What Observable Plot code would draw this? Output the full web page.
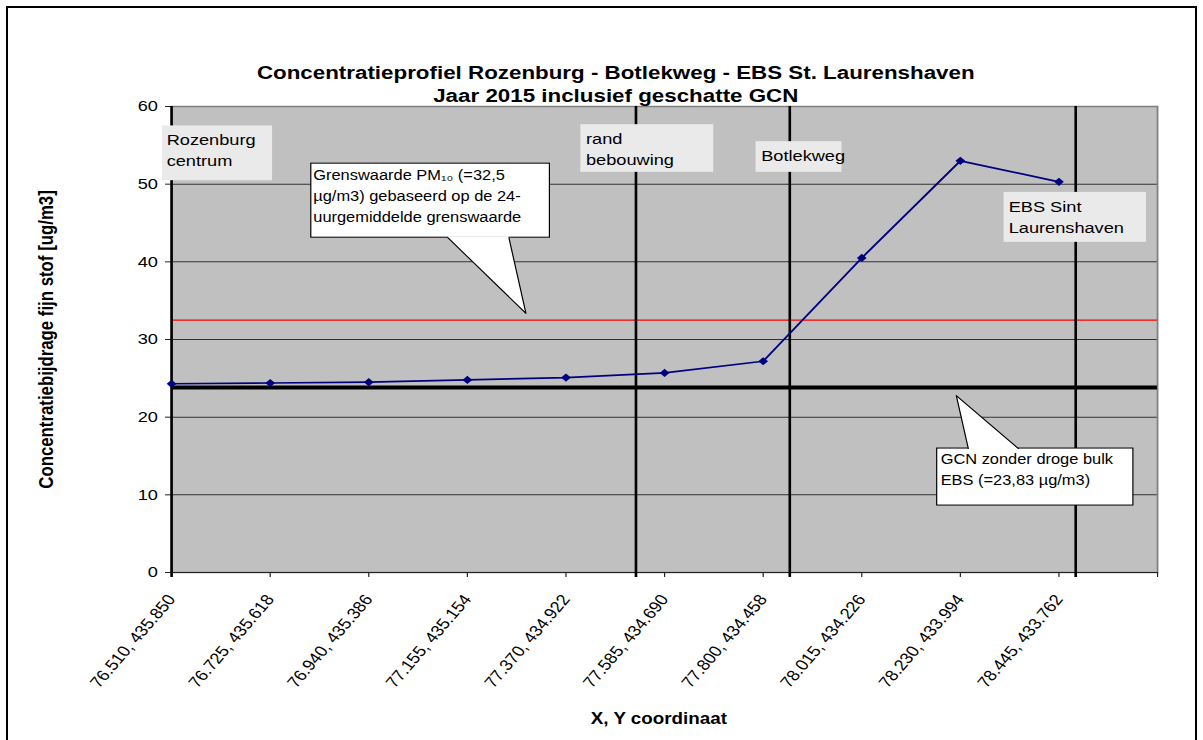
<!DOCTYPE html>
<html>
<head>
<meta charset="utf-8">
<script src="https://cdn.jsdelivr.net/npm/d3@7"></script>
<script src="https://cdn.jsdelivr.net/npm/@observablehq/plot@0.6"></script>
<style>
  html, body { margin: 0; padding: 0; background: #fff; overflow: hidden; }
  body { width: 1203px; height: 740px; position: relative; font-family: "Liberation Sans", Arial, sans-serif; }
  #wrap { position: absolute; left: 0; top: 0; width: 1011px; height: 740px; transform: scaleX(1.18991); transform-origin: 0 0; }
  #title { position: absolute; left: 0; top: 62px; width: 1035px; text-align: center; font-weight: bold; font-size: 18.8px; line-height: 22.5px; color: #000; }
  #border { position: absolute; left: 6px; top: 6px; width: 1191px; height: 800px; border: 2px solid #000; box-sizing: border-box; pointer-events: none; }
  svg { display: block; }
</style>
</head>
<body>
<div id="wrap">
  <div id="chart"></div>
  <div id="title"></div>
</div>
<div id="border"></div>
<script>
// ---- data ----
const titleLines = ["Concentratieprofiel Rozenburg - Botlekweg - EBS St. Laurenshaven", "Jaar 2015 inclusief geschatte GCN"];
const yAxisTitle = "Concentratiebijdrage fijn stof [ug/m3]";
const xAxisTitle = "X, Y coordinaat";
const xLabels = ["76.510, 435.850", "76.725, 435.618", "76.940, 435.386", "77.155, 435.154", "77.370, 434.922",
                 "77.585, 434.690", "77.800, 434.458", "78.015, 434.226", "78.230, 433.994", "78.445, 433.762"];
const values = [24.3, 24.4, 24.5, 24.8, 25.1, 25.7, 27.2, 40.5, 53.0, 50.3];
const yTicks = [0, 10, 20, 30, 40, 50, 60];
const limitPM10 = 32.5;
const gcnValue = 23.83;

// location markers (x in category-index units)
const locNames = ["Rozenburg\ncentrum", "rand\nbebouwing", "Botlekweg", "EBS Sint\nLaurenshaven"];
const locLineX = [0, 4.71, 6.27, 9.17];
const locTextX = [-0.05, 4.203, 5.98, 8.49];
const locTextY = [57.04, 57.13, 54.98, 48.42];
const locBoxX1 = [-0.091, 4.152, 5.929, 8.444];
const locBoxX2 = [1.025, 5.5, 6.80, 9.888];
const locBoxTop = [57.5, 57.66, 55.47, 48.94];
const locBoxBottom = [50.45, 51.52, 51.52, 42.51];

// callouts
const calloutText = ["Grenswaarde PM₁₀ (=32,5\nµg/m3) gebaseerd op de 24-\nuurgemiddelde grenswaarde",
                     "GCN zonder droge bulk\nEBS (=23,83 µg/m3)"];
const calloutBoxX1 = [1.418, 7.766];
const calloutBoxX2 = [3.838, 9.756];
const calloutBoxTop = [52.64, 15.96];
const calloutBoxBottom = [43.11, 8.62];
const calloutTextX = [1.437, 7.80];
const calloutTextY = [52.54, 15.95];
const calloutBaseX1 = [2.802, 8.081];
const calloutBaseX2 = [3.421, 8.589];
const calloutBaseY = [43.11, 15.96];
const calloutTipX = [3.594, 7.959];
const calloutTipY = [33.37, 22.78];

// ---- derived tables ----
const series = values.map((v, i) => ({i, v}));
const locBoxes = locNames.map((n, i) => ({x1: locBoxX1[i], x2: locBoxX2[i], y1: locBoxBottom[i], y2: locBoxTop[i]}));
const locLabels = locNames.map((n, i) => ({text: n, x: locTextX[i], y: locTextY[i]}));
const calloutBoxes = calloutText.map((t, i) => ({x1: calloutBoxX1[i], x2: calloutBoxX2[i], y1: calloutBoxBottom[i], y2: calloutBoxTop[i]}));
const calloutLabels = calloutText.map((t, i) => ({text: t, x: calloutTextX[i], y: calloutTextY[i]}));
const pointerFill = [], pointerSides = [];
calloutText.forEach((t, i) => {
  const s = calloutTipY[i] < calloutBaseY[i] ? 1 : -1;
  const inside = calloutBaseY[i] + s * 0.2;
  pointerFill.push(
    {id: i, x: calloutBaseX1[i], y: inside},
    {id: i, x: calloutBaseX1[i], y: calloutBaseY[i]},
    {id: i, x: calloutTipX[i], y: calloutTipY[i]},
    {id: i, x: calloutBaseX2[i], y: calloutBaseY[i]},
    {id: i, x: calloutBaseX2[i], y: inside});
  pointerSides.push(
    {id: i, x: calloutBaseX1[i], y: calloutBaseY[i]},
    {id: i, x: calloutTipX[i], y: calloutTipY[i]},
    {id: i, x: calloutBaseX2[i], y: calloutBaseY[i]});
});

document.getElementById("title").innerHTML = titleLines.map(s => `<div>${s}</div>`).join("");

const FONT = "'Liberation Sans', Arial, Helvetica, sans-serif";
const chart = Plot.plot({
  width: 1011,
  height: 740,
  marginLeft: 143.7,
  marginRight: 38.7,
  marginTop: 106,
  marginBottom: 168,
  style: {fontFamily: FONT, fontSize: "15.3px", color: "#000", background: "transparent", overflow: "visible"},
  x: {domain: [0, 10], axis: null},
  y: {domain: [0, 60], axis: null},
  marks: [
    Plot.frame({fill: "#c0c0c0"}),
    Plot.gridY(yTicks.slice(1, -1), {stroke: "#333", strokeOpacity: 1, strokeWidth: 1}),
    Plot.frame({stroke: "#808080", strokeWidth: 1.5}),
    Plot.ruleY([0], {stroke: "#222", strokeWidth: 1.2}),
    Plot.axisY({ticks: yTicks, tickSize: 5, tickPadding: 6.5, label: null, stroke: "#222", fontSize: 15.3}),
    Plot.axisX({ticks: d3.range(0, 11), tickFormat: d => xLabels[d] ?? "", tickRotate: -54, textAnchor: "end", lineAnchor: "middle",
                tickSize: 5, tickPadding: 19, label: null, stroke: "#222", fontSize: 15.3}),
    Plot.ruleY([limitPM10], {stroke: "#ff0000", strokeWidth: 1.2}),
    Plot.ruleY([gcnValue], {stroke: "#000", strokeWidth: 4}),
    Plot.ruleX(locLineX, {stroke: "#000", strokeWidth: 2.2, insetBottom: -5}),
    Plot.line(series, {x: "i", y: "v", stroke: "#000080", strokeWidth: 1.7}),
    Plot.dot(series, {x: "i", y: "v", symbol: "diamond2", r: 3.7, fill: "#000080", stroke: "none"}),
    Plot.rect(locBoxes, {x1: "x1", x2: "x2", y1: "y1", y2: "y2", fill: "#eaeaea"}),
    Plot.text(locLabels, {x: "x", y: "y", text: "text", textAnchor: "start", lineAnchor: "top", lineHeight: 1.4, fontSize: 15.3, fill: "#000"}),
    Plot.rect(calloutBoxes, {x1: "x1", x2: "x2", y1: "y1", y2: "y2", fill: "#fff", stroke: "#000", strokeWidth: 1}),
    Plot.line(pointerFill, {x: "x", y: "y", z: "id", fill: "#fff", stroke: "none"}),
    Plot.line(pointerSides, {x: "x", y: "y", z: "id", stroke: "#000", strokeWidth: 1, fill: "none"}),
    Plot.text(calloutLabels, {x: "x", y: "y", text: "text", textAnchor: "start", lineAnchor: "top", lineHeight: 1.55, fontSize: 13.8, fill: "#000"}),
    Plot.text([yAxisTitle], {frameAnchor: "left", textAnchor: "middle", rotate: -90, dx: -105, fontWeight: "bold", fontSize: 16.8, fill: "#000"}),
    Plot.text([xAxisTitle], {frameAnchor: "bottom", lineAnchor: "top", dy: 140, dx: -4.8, fontWeight: "bold", fontSize: 15.8, fill: "#000"})
  ]
});
document.getElementById("chart").appendChild(chart);
</script>
</body>
</html>
